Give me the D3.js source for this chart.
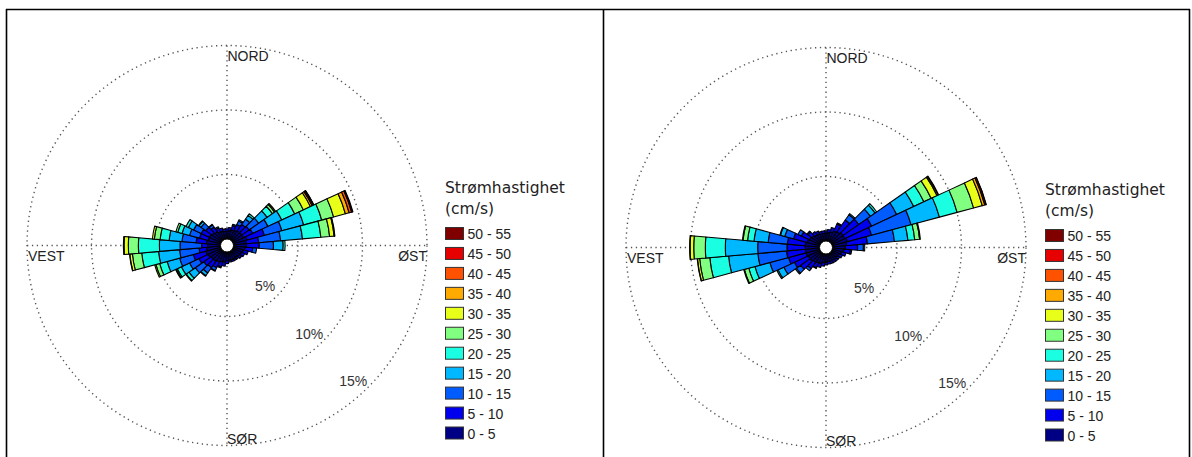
<!DOCTYPE html>
<html>
<head>
<meta charset="utf-8">
<script src="https://cdn.jsdelivr.net/npm/d3@7"></script>
<style>
  body { margin: 0; background: #fff; }
  svg { display: block; }
  text { font-family: "Liberation Sans", Arial, sans-serif; }
</style>
</head>
<body>
<script>
// direction bins (degrees, clockwise from north)
var directions = [0, 10, 20, 30, 40, 50, 60, 70, 80, 90, 100, 110, 120, 130, 140, 150, 160, 170,
                  180, 190, 200, 210, 220, 230, 240, 250, 260, 270, 280, 290, 300, 310, 320, 330, 340, 350];

var speedLabels = ["0 - 5", "5 - 10", "10 - 15", "15 - 20", "20 - 25", "25 - 30",
                   "30 - 35", "35 - 40", "40 - 45", "45 - 50", "50 - 55"];
var speedColors = ["#000085", "#0000ee", "#005cff", "#00b8ff", "#1affe2", "#80ff80",
                   "#e8ff1a", "#ffaa00", "#ff5200", "#e60000", "#800000"];

var ringTicks = [5, 10, 15];
var compass = ["NORD", "ØST", "SØR", "VEST"];

// percent of time per speed class (0-5, 5-10, ...) for each direction
var leftRose = [
  [0.6, 0.2],
  [0.65, 0.25],
  [0.75, 0.35, 0.1],
  [0.8, 0.5, 0.3, 0.1],
  [0.9, 0.6, 0.5, 0.35, 0.15],
  [0.9, 0.7, 0.9, 0.8, 0.5, 0.2, 0.1],
  [0.9, 0.8, 1.3, 1.18, 1.11, 0.74, 0.6, 0.15, 0.1, 0.03, 0.02],
  [1.1, 1.4, 1.4, 1.75, 1.45, 0.95, 0.95, 0.3, 0.2, 0.05, 0.05],
  [1.0, 0.96, 1.71, 1.7, 1.43, 0.68, 0.35, 0.04, 0.02],
  [1.0, 1.0, 1.1, 0.75, 0.15],
  [0.9, 0.6, 0.3],
  [0.8, 0.4],
  [0.75, 0.25],
  [0.7, 0.2],
  [0.65, 0.15],
  [0.65, 0.15],
  [0.65, 0.15],
  [0.65, 0.15],
  [0.7, 0.2],
  [0.8, 0.3],
  [0.85, 0.35, 0.1],
  [0.9, 0.5, 0.25, 0.05],
  [1.0, 0.6, 0.5, 0.25, 0.05],
  [1.0, 0.7, 0.8, 0.6, 0.25, 0.05],
  [1.1, 0.8, 0.8, 0.7, 0.35, 0.1, 0.05],
  [1.2, 1.0, 1.1, 1.0, 0.6, 0.3, 0.1],
  [1.1, 0.57, 1.52, 1.63, 1.31, 0.73, 0.2, 0.02],
  [1.0, 0.46, 1.68, 1.6, 1.63, 0.78, 0.33, 0.05],
  [1.1, 0.8, 1.1, 1.0, 0.7, 0.45, 0.15],
  [1.0, 0.7, 0.8, 0.6, 0.35, 0.15],
  [1.0, 0.7, 0.65, 0.45, 0.2],
  [0.9, 0.6, 0.45, 0.2, 0.05],
  [0.8, 0.45, 0.2, 0.05],
  [0.7, 0.3, 0.1],
  [0.65, 0.25],
  [0.6, 0.2]
];

var rightRose = [
  [0.6, 0.2],
  [0.65, 0.25],
  [0.75, 0.35],
  [0.9, 0.6, 0.1],
  [1.0, 1.1, 0.5, 0.1],
  [1.1, 1.5, 1.1, 0.45, 0.15],
  [1.1, 2.3, 2.14, 1.46, 0.87, 0.63, 0.5, 0.1, 0.04],
  [1.2, 1.95, 3.17, 2.28, 1.42, 1.32, 0.7, 0.2, 0.1, 0.02],
  [1.1, 1.62, 2.1, 1.05, 0.53, 0.38, 0.06],
  [1.0, 0.95, 0.45, 0.1],
  [0.9, 0.5, 0.1],
  [0.75, 0.35],
  [0.65, 0.25],
  [0.6, 0.2],
  [0.6, 0.2],
  [0.6, 0.2],
  [0.6, 0.2],
  [0.6, 0.2],
  [0.65, 0.2],
  [0.7, 0.25],
  [0.8, 0.3],
  [0.85, 0.4, 0.05],
  [0.9, 0.6, 0.2],
  [1.0, 0.9, 0.4, 0.1],
  [1.0, 1.2, 0.9, 0.5, 0.1],
  [1.1, 1.4, 1.5, 1.2, 0.5, 0.35, 0.05],
  [1.1, 1.47, 2.23, 2.28, 1.46, 0.79, 0.17, 0.02],
  [1.1, 1.42, 2.27, 2.51, 1.55, 0.9, 0.28, 0.04],
  [1.1, 1.4, 1.5, 1.1, 0.5, 0.35, 0.05],
  [1.0, 1.1, 0.7, 0.35, 0.05],
  [0.9, 0.7, 0.3],
  [0.8, 0.4, 0.1],
  [0.7, 0.3],
  [0.65, 0.25],
  [0.6, 0.2],
  [0.6, 0.2]
];

var W = 1192, H = 457;
var svg = d3.select("body").append("svg").attr("width", W).attr("height", H);

// table frame
var frame = svg.append("g").attr("stroke", "#000").attr("stroke-width", 1.6);
frame.append("line").attr("x1", 6).attr("x2", 1190).attr("y1", 9.5).attr("y2", 9.5);
frame.append("line").attr("x1", 6.5).attr("x2", 6.5).attr("y1", 9).attr("y2", H);
frame.append("line").attr("x1", 603.5).attr("x2", 603.5).attr("y1", 9).attr("y2", H);
frame.append("line").attr("x1", 1189.5).attr("x2", 1189.5).attr("y1", 9).attr("y2", H);

var r = d3.scaleLinear().domain([0, 15]).range([6.5, 200]);
var deg = Math.PI / 180;

function drawRose(data, cx, cy, lx, ly) {
  var g = svg.append("g").attr("transform", "translate(" + cx + "," + cy + ")");
  var R = r(15);

  // grid
  var grid = g.append("g").attr("fill", "none").attr("stroke", "#555")
    .attr("stroke-width", 1.4).attr("stroke-dasharray", "1.3,3.6");
  grid.selectAll("circle").data(ringTicks).join("circle").attr("r", function(d) { return r(d); });
  grid.append("line").attr("x1", -R).attr("x2", R).attr("y1", 0).attr("y2", 0);
  grid.append("line").attr("x1", 0).attr("x2", 0).attr("y1", -R).attr("y2", R);

  // stacked wedges
  var arc = d3.arc();
  var wedges = [];
  data.forEach(function(row, i) {
    var cum = 0;
    speedLabels.forEach(function(lab, k) {
      var v = row[k] || 0;
      if (v > 0) {
        wedges.push({
          innerRadius: r(cum), outerRadius: r(cum + v),
          startAngle: (directions[i] - 5) * deg, endAngle: (directions[i] + 5) * deg,
          k: k
        });
      }
      cum += v;
    });
  });
  g.append("g").selectAll("path").data(wedges).join("path")
    .attr("d", arc)
    .attr("fill", function(d) { return speedColors[d.k]; })
    .attr("stroke", "#000").attr("stroke-width", 1.1).attr("stroke-linejoin", "round");

  g.append("circle").attr("r", r(0)).attr("fill", "#fff").attr("stroke", "#000").attr("stroke-width", 1);

  // compass labels
  var lab = g.append("g").attr("font-size", 14).attr("fill", "#222");
  lab.append("text").attr("x", 0.5).attr("y", -R + 15.5).text(compass[0]);
  lab.append("text").attr("x", R).attr("y", 15).attr("text-anchor", "end").text(compass[1]);
  lab.append("text").attr("x", 0).attr("y", R - 2).text(compass[2]);
  lab.append("text").attr("x", -R + 1).attr("y", 15).text(compass[3]);

  // ring labels
  lab.selectAll("text.pct").data(ringTicks).join("text").attr("class", "pct")
    .attr("text-anchor", "middle").attr("fill", "#333")
    .attr("x", function(d) { return (r(d) - 15) * Math.sin(137 * deg); })
    .attr("y", function(d) { return -(r(d) - 15) * Math.cos(137 * deg) + 5; })
    .text(function(d) { return d + "%"; });

  // legend
  var lg = svg.append("g").attr("transform", "translate(" + lx + "," + ly + ")");
  lg.append("text").attr("x", 0).attr("y", 0).attr("font-size", 15.5)
    .style("font-family", "'DejaVu Sans', sans-serif").attr("fill", "#222").text("Strømhastighet");
  lg.append("text").attr("x", 0).attr("y", 20.5).attr("font-size", 15.5)
    .style("font-family", "'DejaVu Sans', sans-serif").attr("fill", "#222").text("(cm/s)");
  var items = speedLabels.map(function(s, k) { return { label: s, k: k }; }).reverse();
  var it = lg.selectAll("g.item").data(items).join("g").attr("class", "item")
    .attr("transform", function(d, i) { return "translate(0," + (34.5 + i * 19.95) + ")"; });
  it.append("rect").attr("x", 0.5).attr("y", 0).attr("width", 18).attr("height", 12)
    .attr("fill", function(d) { return speedColors[d.k]; })
    .attr("stroke", "#333").attr("stroke-width", 1);
  it.append("text").attr("x", 22.5).attr("y", 11.5).attr("font-size", 14).attr("fill", "#222")
    .text(function(d) { return d.label; });
}

drawRose(leftRose, 227, 245.5, 445, 193);
drawRose(rightRose, 826, 247.5, 1045, 195);
</script>
</body>
</html>
